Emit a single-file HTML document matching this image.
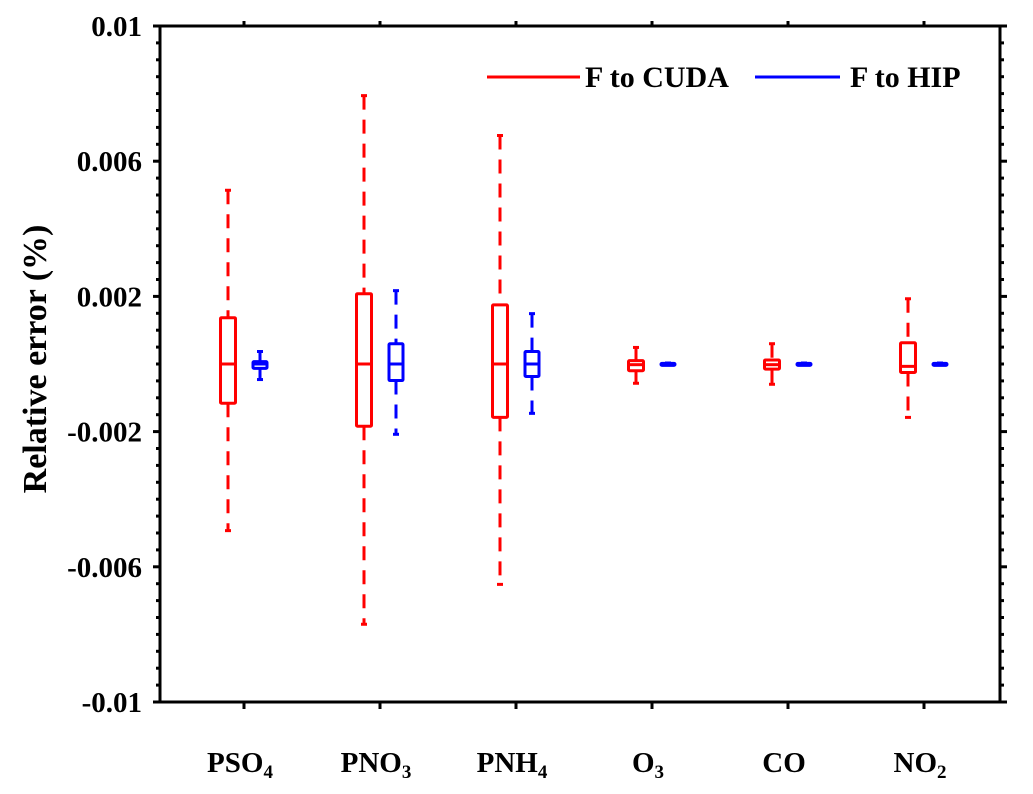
<!DOCTYPE html>
<html><head><meta charset="utf-8"><style>
body{margin:0;background:#fff;}
svg text{font-family:"Liberation Serif",serif;font-weight:bold;fill:#000;}
</style></head><body>
<svg id="chart" width="1033" height="789" viewBox="0 0 1033 789" xmlns="http://www.w3.org/2000/svg">
<g id="g"></g>
</svg>
<script>
const categories=["PSO4","PNO3","PNH4","O3","CO","NO2"];
const catLabels=[["PSO","4"],["PNO","3"],["PNH","4"],["O","3"],["CO",""],["NO","2"]];
// [whiskerLow, q1, median, q3, whiskerHigh]
const cudaStats=[[-0.00493,-0.00116,0,0.00137,0.00514],[-0.0077,-0.00184,0,0.00208,0.00794],[-0.00652,-0.00158,0,0.00175,0.00676],[-0.00057,-0.0002,-0.00002,0.0001,0.00049],[-0.0006,-0.00015,-0.00002,0.00012,0.0006],[-0.00158,-0.00025,-0.00007,0.00063,0.00193]];
const hipStats=[[-0.00046,-0.00013,0,0.00007,0.00037],[-0.00208,-0.00049,0,0.0006,0.00217],[-0.00146,-0.00037,0,0.00037,0.00149],[-0.00003,-0.00002,0,0.00002,0.00003],[-0.00003,-0.00002,0,0.00002,0.00003],[-0.00003,-0.00002,0,0.00002,0.00003]];
const yTicks=[0.01,0.006,0.002,-0.002,-0.006,-0.01];
const yTickLabels=["0.01","0.006","0.002","-0.002","-0.006","-0.01"];
const L=160,R=1000,T=26,B=702,yMin=-0.01,yMax=0.01;
function y(v){return B-(v-yMin)/(yMax-yMin)*(B-T);}
function xc(i){return 244+i*136;}
const g=document.getElementById('g');
const NS="http://www.w3.org/2000/svg";
function el(t,a,p){const e=document.createElementNS(NS,t);for(const k in a)e.setAttribute(k,a[k]);(p||g).appendChild(e);return e;}
let f=el('rect',{x:L,y:T,width:R-L,height:B-T,fill:'none',stroke:'#000','stroke-width':3});


for(let k=0;k<=40;k++){const v=yMin+k*0.0005;const yy=y(v);const major=(k%8===0);
 let t=el('line',{x1:L-(major?7:4),x2:L,y1:yy,y2:yy,stroke:'#000','stroke-width':3});
 
 
 let t2=el('line',{x1:R,x2:R+(major?7:4),y1:yy,y2:yy,stroke:'#000','stroke-width':3});
 
 }
yTicks.forEach((v,i)=>{let t=el('text',{x:L-18,y:y(v)+10,'text-anchor':'end','font-size':29});t.textContent=yTickLabels[i];
 
 });
let yl=el('text',{x:0,y:0,'text-anchor':'middle','font-size':34,transform:'translate(46,359) rotate(-90)'});yl.textContent="Relative error (%)";


categories.forEach((c,i)=>{const x=xc(i);
 let bt=el('line',{x1:x,x2:x,y1:B,y2:B+7,stroke:'#000','stroke-width':3});
 
 
 let tt=el('line',{x1:x,x2:x,y1:T,y2:T-5,stroke:'#000','stroke-width':3});
 
 
 let t=el('text',{x:x-4,y:772,'text-anchor':'middle','font-size':29});
 
 
 t.appendChild(document.createTextNode(catLabels[i][0]));
 if(catLabels[i][1]){const s=el('tspan',{'font-size':19,dy:6},t);s.textContent=catLabels[i][1];}
});
function box(s,x,w,color,name){
 const gg=el('g',{});
 
 
 const a={stroke:color,'stroke-width':3,fill:'none'};
 el('line',Object.assign({x1:x,x2:x,y1:y(s[4]),y2:y(s[3]),'stroke-dasharray':'14,10'},a),gg);
 el('line',Object.assign({x1:x,x2:x,y1:y(s[1]),y2:y(s[0]),'stroke-dasharray':'14,10'},a),gg);
 el('line',Object.assign({x1:x-3,x2:x+3,y1:y(s[4]),y2:y(s[4])},a),gg);
 el('line',Object.assign({x1:x-3,x2:x+3,y1:y(s[0]),y2:y(s[0])},a),gg);
 const h=Math.max(2,y(s[1])-y(s[3]));
 el('rect',Object.assign({x:x-w/2,y:y(s[3]),width:w,height:h,rx:1},a),gg);
 el('line',Object.assign({x1:x-w/2,x2:x+w/2,y1:y(s[2]),y2:y(s[2])},a),gg);
}
categories.forEach((c,i)=>{
 box(cudaStats[i],xc(i)-16,15,'#ff0000','cuda-box-'+c.toLowerCase());
 box(hipStats[i],xc(i)+16,14,'#0000ff','hip-box-'+c.toLowerCase());
});
const lg=el('g',{});


el('line',{x1:487,x2:580,y1:77,y2:77,stroke:'#ff0000','stroke-width':3},lg);
let l1=el('text',{x:585,y:87,'font-size':30},lg);l1.textContent="F to CUDA";


el('line',{x1:755,x2:840,y1:77,y2:77,stroke:'#0000ff','stroke-width':3},lg);
let l2=el('text',{x:850,y:87,'font-size':30},lg);l2.textContent="F to HIP";


</script>
</body></html>
